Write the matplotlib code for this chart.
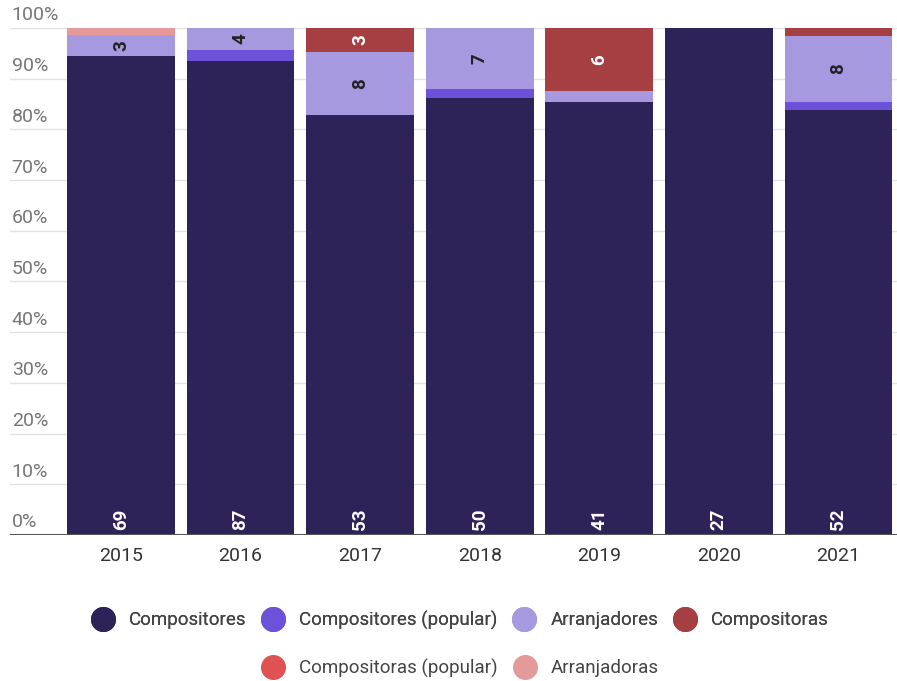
import matplotlib.pyplot as plt
import numpy as np
from matplotlib.lines import Line2D

plt.rcParams['font.family'] = ['Roboto', 'DejaVu Sans']

years = ['2015', '2016', '2017', '2018', '2019', '2020', '2021']
series = ['Compositores', 'Compositores (popular)', 'Arranjadores',
          'Compositoras', 'Compositoras (popular)', 'Arranjadoras']
compositores = [69, 87, 53, 50, 41, 27, 52]
compositores_pop = [0, 2, 0, 1, 0, 0, 1]
arranjadores = [3, 4, 8, 7, 1, 0, 8]
compositoras = [0, 0, 3, 0, 6, 0, 1]
compositoras_pop = [0, 0, 0, 0, 0, 0, 0]
arranjadoras = [1, 0, 0, 0, 0, 0, 0]

colors = ['#2d2359', '#6b52d9', '#a699e0', '#a63f42', '#e05252', '#e59a9a']
label_colors = ['white', 'white', '#222222', 'white', 'white', '#222222']


def main():
	data = np.array([compositores, compositores_pop, arranjadores,
	                 compositoras, compositoras_pop, arranjadoras], dtype=float)
	totals = data.sum(axis=0)
	pct = data / totals * 100

	fig = plt.figure(figsize=(8.97, 6.81), dpi=100)
	ax = fig.add_axes([0.011, 0.2144, 0.989, 0.7445])
	x = np.arange(len(years))

	for v in range(10, 101, 10):
		ax.axhline(v, color='#e3e3e3', lw=1, zorder=0)
	for v in range(0, 101, 10):
		ax.text(0.002, v + 0.7, f'{v}%', transform=ax.get_yaxis_transform(),
		        ha='left', va='bottom', fontsize=14, color='#777777')

	bottom = np.zeros(len(years))
	for i in range(len(series)):
		ax.bar(x, pct[i], 0.9, bottom=bottom, color=colors[i], zorder=2)
		for j in range(len(years)):
			if data[i, j] >= 3:
				if i == 0:
					ypos = 1.0
					va = 'bottom'
				else:
					ypos = bottom[j] + pct[i, j] / 2
					va = 'center'
				ax.text(x[j], ypos, f'{int(data[i, j])}', rotation=90,
				        ha='center', va=va, fontsize=13.5, fontweight='bold',
				        color=label_colors[i], zorder=3)
		bottom += pct[i]

	ax.axhline(0, color='#555555', lw=2.2, zorder=4)
	ax.set_xlim(-0.93, 6.49)
	ax.set_ylim(0, 100)
	ax.set_xticks(x)
	ax.set_xticklabels(years, fontsize=14, color='#333333')
	ax.tick_params(axis='x', length=0, pad=9)
	ax.set_yticks([])
	for s in ax.spines.values():
		s.set_visible(False)

	handles = [Line2D([], [], ls='', marker='o', markersize=17,
	                  markerfacecolor=c, markeredgecolor=c) for c in colors]
	kw = dict(frameon=False, fontsize=13.5, handletextpad=0.4,
	          columnspacing=0.42, labelcolor='#444444')
	leg1 = fig.legend(handles[:4], series[:4], loc='center', ncol=4,
	                  bbox_to_anchor=(0.509, 0.0896), **kw)
	fig.legend(handles[4:], series[4:], loc='center', ncol=2,
	           bbox_to_anchor=(0.509, 0.019), **kw)
	fig.add_artist(leg1)

	fig.savefig('out.png', dpi=100)


if __name__ == '__main__':
	main()
